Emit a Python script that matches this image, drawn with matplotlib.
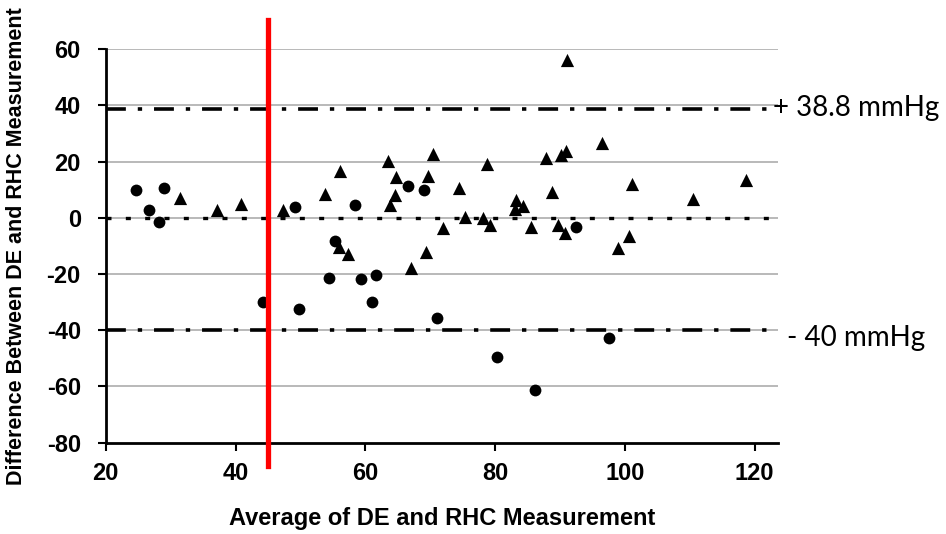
import numpy as np
import matplotlib.pyplot as plt

# circles
circ_x = [24.6, 28.9, 26.7, 28.2, 49.2, 44.3, 49.8, 54.4, 55.3, 58.4,
          66.6, 69.0, 59.3, 61.7, 61.1, 71.0, 80.3, 86.1, 92.4, 97.6]
circ_y = [10.1, 10.8, 2.7, -1.3, 3.9, -29.9, -32.5, -21.5, -8.2, 4.6,
          11.3, 10.0, -21.6, -20.4, -29.9, -35.8, -49.5, -61.4, -3.4, -42.6]

# triangles
tri_x = [31.4, 37.1, 40.9, 47.3, 53.8, 56.1, 56.0, 57.4, 63.5, 70.5,
         64.8, 69.6, 64.6, 63.8, 74.4, 67.0, 69.4, 71.9, 75.3, 78.2,
         79.2, 78.7, 83.3, 84.3, 83.0, 85.5, 88.7, 87.9, 90.2, 90.9,
         91.1, 89.7, 90.8, 96.5, 101.1, 100.7, 99.0, 110.5, 118.6]
tri_y = [6.9, 2.7, 4.8, 2.7, 8.6, 16.8, -10.3, -12.8, 20.3, 22.7,
         14.5, 14.8, 8.0, 4.5, 10.5, -17.7, -12.1, -3.6, 0.2, 0.1,
         -2.5, 19.2, 6.2, 4.3, 3.3, -3.3, 9.1, 21.4, 22.3, 23.8,
         56.3, -2.4, -5.3, 26.8, 12.2, -6.6, -10.7, 6.6, 13.4]

upper_loa = 38.8
lower_loa = -40
mean_diff = 0
cutoff = 45

yticks = [-80, -60, -40, -20, 0, 20, 40, 60]
xticks = [20, 40, 60, 80, 100, 120]

fig = plt.figure(figsize=(9.46, 5.34), dpi=100)
ax = fig.add_axes([0.1118, 0.171, 0.8224 - 0.1118, 0.9077 - 0.171])

bold = dict(family='Liberation Sans', weight='bold')

for yt in yticks[1:]:
    ax.axhline(yt, color='#a6a6a6', lw=1.1, zorder=1)

ax.axhline(upper_loa, color='black', lw=2.6, dashes=(5.5, 3.3, 1.2, 3.3), zorder=2)
ax.axhline(lower_loa, color='black', lw=2.6, dashes=(5.5, 3.3, 1.2, 3.3), zorder=2)
ax.axhline(mean_diff, color='black', lw=2.4, dashes=(1.5, 4.3), zorder=2)

ax.scatter(circ_x, circ_y, marker='o', s=8.5**2, color='black', zorder=3, linewidths=0)
ax.scatter(tri_x, tri_y, marker='^', s=9.5**2, color='black', zorder=3, linewidths=0)

ax.axvline(cutoff, ymin=-0.059, ymax=1.075, color='#ff0000', lw=3.8, clip_on=False, zorder=5)

ax.set_xlim(20, 123.6)
ax.set_ylim(-80, 60)
ax.set_xticks(xticks)
ax.set_yticks(yticks)
ax.set_xticklabels([str(v) for v in xticks])
ax.set_yticklabels([str(v) for v in yticks])
ax.spines['top'].set_visible(False)
ax.spines['right'].set_visible(False)
ax.spines['left'].set_linewidth(2)
ax.spines['bottom'].set_linewidth(2)
ax.tick_params(length=6, width=1.5, direction='out')
ax.tick_params(axis='x', pad=8)
ax.tick_params(axis='y', pad=12)
for lab in ax.get_xticklabels() + ax.get_yticklabels():
    lab.set_fontsize(17)
    lab.set_fontfamily('Liberation Sans')
    lab.set_fontweight('bold')

ax.set_xlabel('Average of DE and RHC Measurement', fontsize=17, labelpad=16, **bold)
ax.set_ylabel('Difference Between DE and RHC Measurement', fontsize=15.5, labelpad=14, **bold)

fig.text(773 / 946, 1 - 108 / 534, '+ 38.8 mmHg', fontsize=20, family='Lato',
         va='center', ha='left')
fig.text(787 / 946, 1 - 338 / 534, '- 40 mmHg', fontsize=20, family='Lato',
         va='center', ha='left')

fig.savefig('out.png', dpi=100)
